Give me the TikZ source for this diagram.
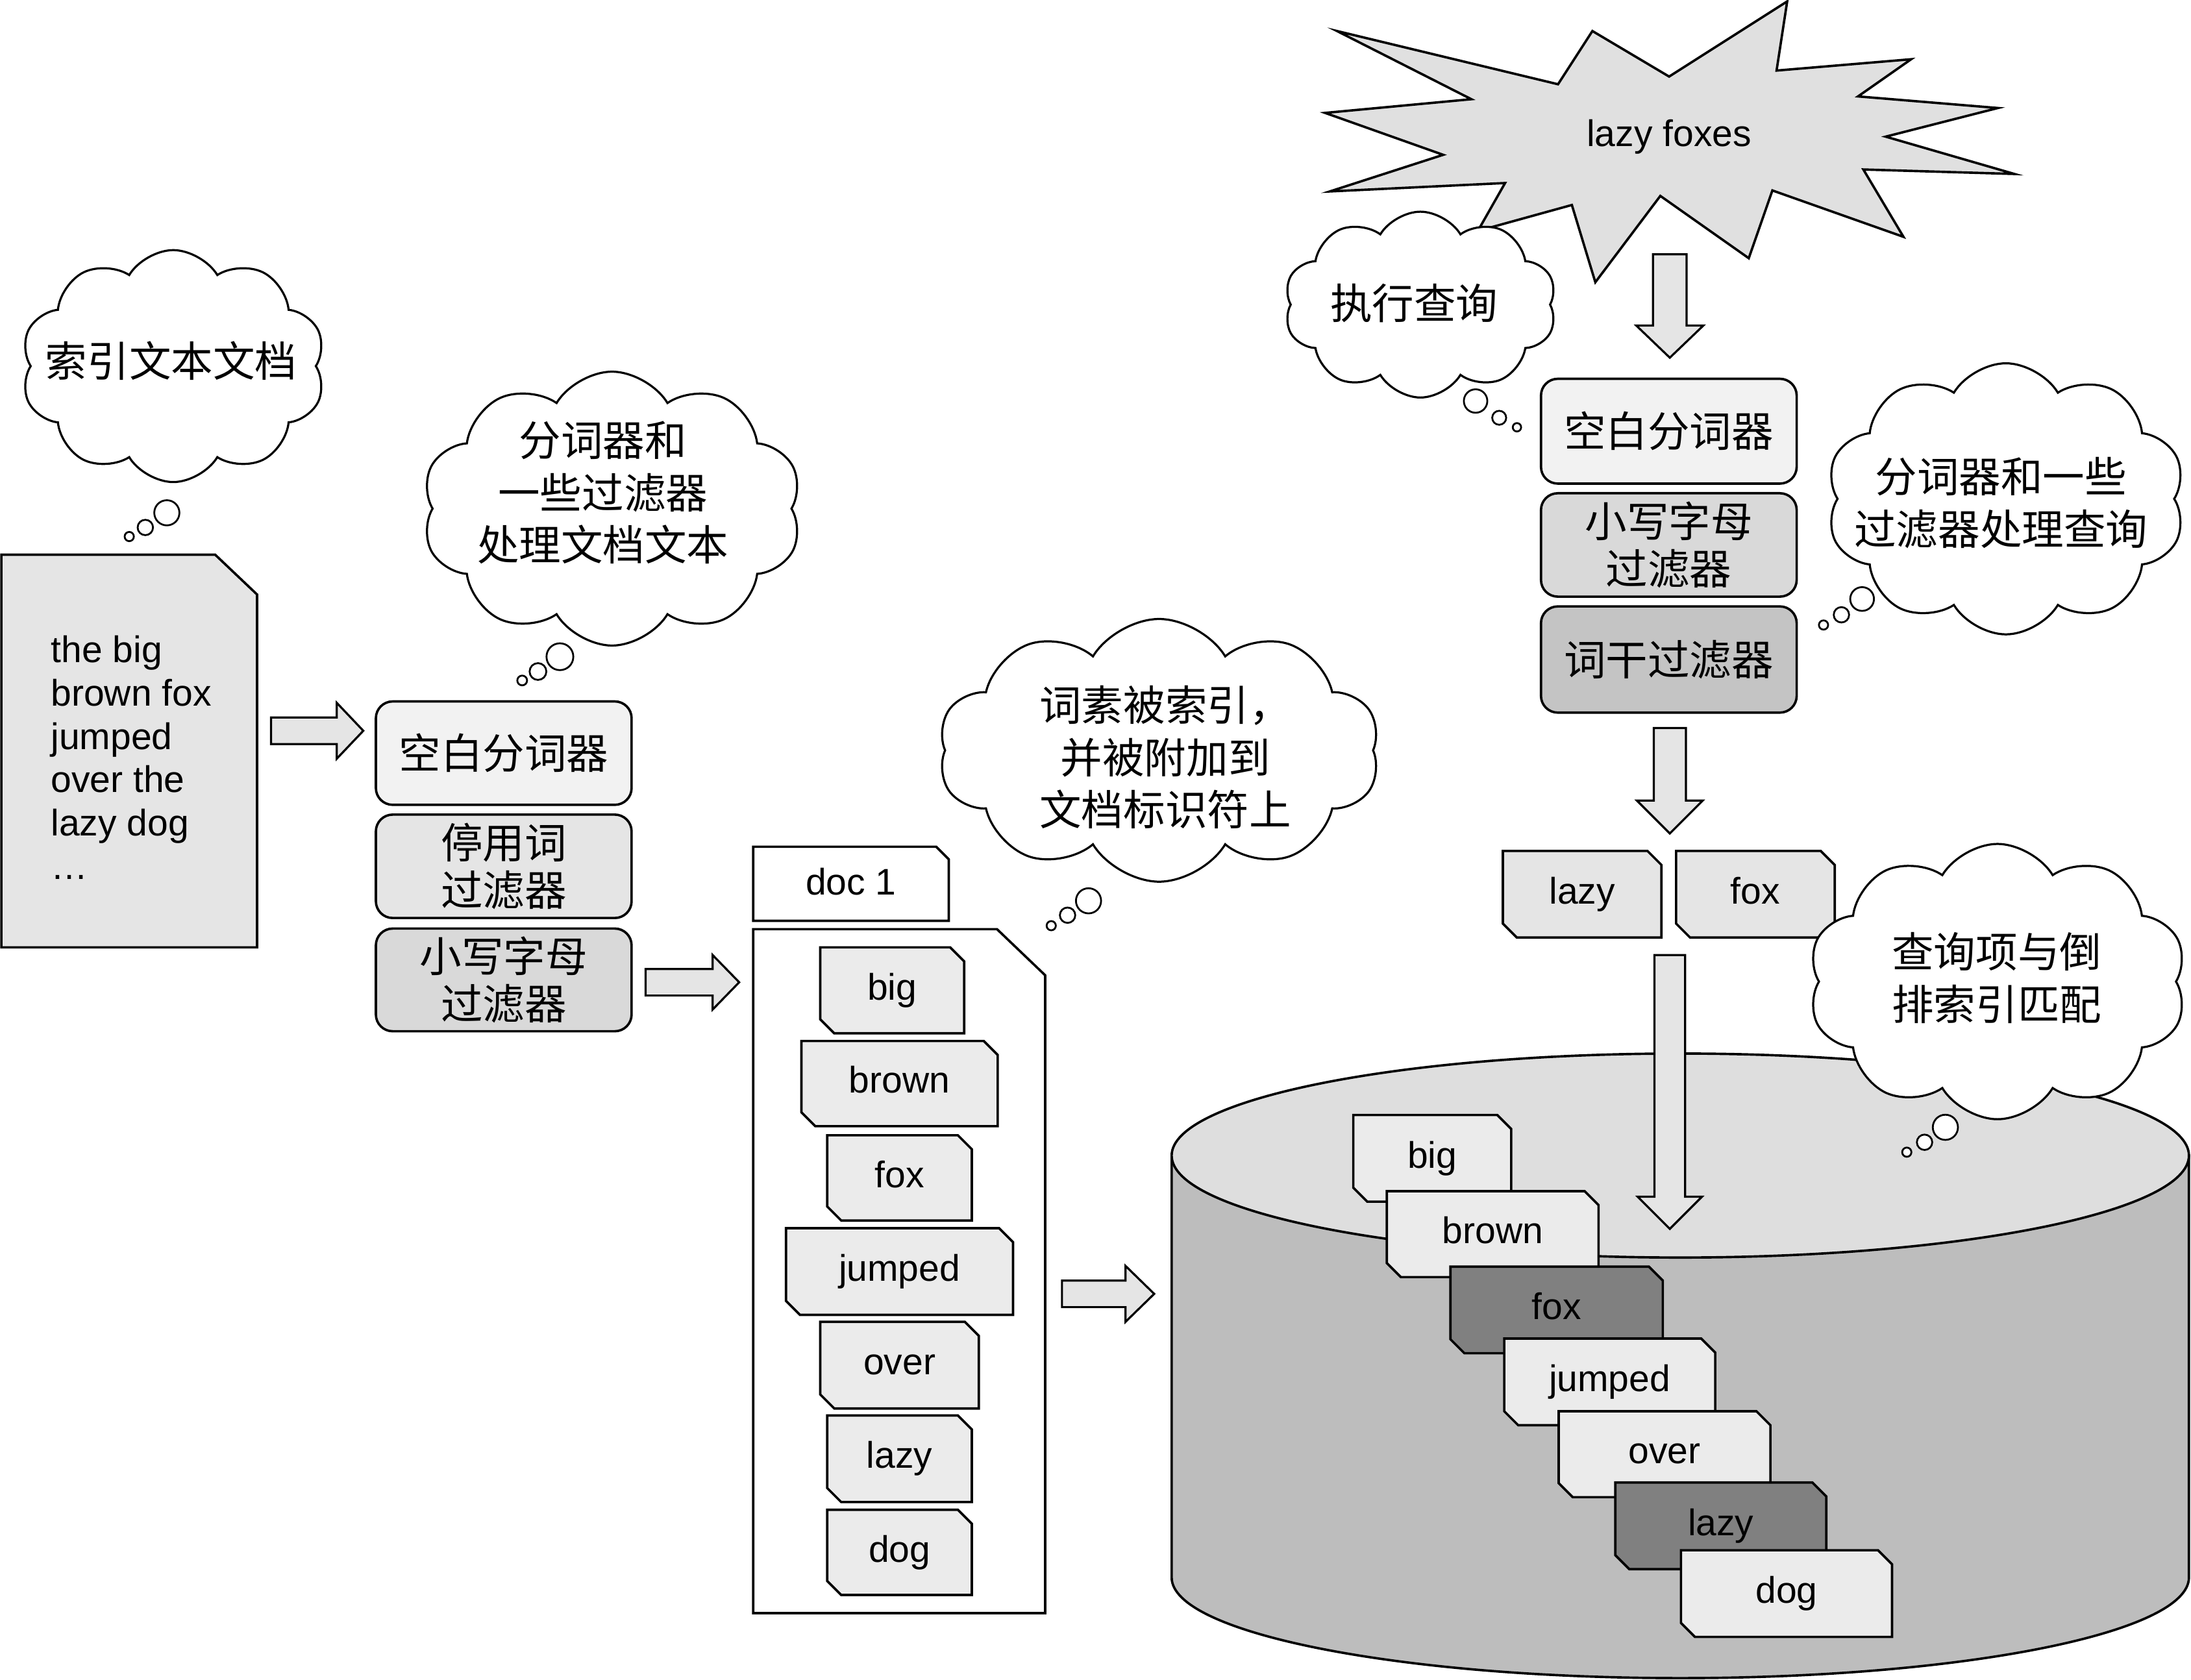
\documentclass[tikz,border=0pt]{standalone}
\usepackage{fontspec}
\setmainfont{Liberation Sans}
\newfontfamily\cjk{Noto Sans CJK SC}
\usetikzlibrary{shapes.symbols}
\definecolor{docgray}{gray}{0.9}
\definecolor{arrgray}{gray}{0.9}
\definecolor{bxa}{gray}{0.95}
\definecolor{bxb}{gray}{0.9}
\definecolor{bxc}{gray}{0.85}
\definecolor{bxd}{gray}{0.77}
\definecolor{tokl}{gray}{0.92}
\definecolor{tokq}{gray}{0.9}
\definecolor{tokd}{gray}{0.5}
\definecolor{cylbody}{gray}{0.74}
\definecolor{cyltop}{gray}{0.87}
\definecolor{burst}{gray}{0.88}
\newcommand\myHArrow[6]{%
\draw[arr] (#1,{#3-#4}) -- ({#2-#6},{#3-#4}) -- ({#2-#6},{#3-#5}) -- (#2,#3) -- ({#2-#6},{#3+#5}) -- ({#2-#6},{#3+#4}) -- (#1,{#3+#4}) -- cycle;}
\newcommand\myVArrow[6]{%
\draw[arr] ({#1-#4},#2) -- ({#1+#4},#2) -- ({#1+#4},{#3-#6}) -- ({#1+#5},{#3-#6}) -- (#1,#3) -- ({#1-#5},{#3-#6}) -- ({#1-#4},{#3-#6}) -- cycle;}
\newcommand\myTok[7]{%
\filldraw[ln,fill=#6] (#2,#3) -- ({#4-10},#3) -- (#4,{#3+10}) -- (#4,#5) -- ({#2+10},#5) -- (#2,{#5-10}) -- cycle;
\node[en] (#1) at ({(#2+#4)/2},{(#3+#5)/2}) {#7};}
\newcommand\myBub[6]{%
\draw[bub] (#1) circle[radius=#2pt];
\draw[bub] (#3) circle[radius=#4pt];
\draw[bub] (#5) circle[radius=#6pt];}
\begin{document}
\begin{tikzpicture}[x=1pt,y=-1pt,
  every node/.style={inner sep=0pt,outer sep=0pt},
  ln/.style={draw=black,line width=1.7pt,line join=miter},
  cl/.style={cloud,cloud puffs=10,cloud puff arc=118,draw=black,line width=1.5pt,fill=white,inner sep=0pt},
  bub/.style={draw=black,line width=1.3pt,fill=white},
  zh/.style={font=\cjk\fontsize{30}{37.5}\selectfont,align=center},
  en/.style={font=\fontsize{26.5}{31}\selectfont,text height=19pt,text depth=5.3pt},
  rbox/.style={ln,rounded corners=12pt,minimum width=183pt,align=center,font=\cjk\fontsize{30}{34}\selectfont},
  arr/.style={ln,fill=arrgray,line width=1.5pt},
]
\useasboundingbox (0,0) rectangle (1568,1202);

% left document
\filldraw[ln,fill=docgray] (1,397) -- (154,397) -- (184,425.5) -- (184,678) -- (1,678) -- cycle;
\node[anchor=north west,align=left,font=\fontsize{26.5}{31}\selectfont] (srctext) at (36.5,455)
  {the big\\brown fox\\jumped\\over the\\lazy dog\\…};

% cloud 1
\node[cl,minimum width=218pt,minimum height=166pt] (c1) at (124,262) {};
\node[zh] (c1t) at (122.5,258) {索引文本文档};
\myBub{92.5,384}{3.3}{104,377.5}{5.5}{119.4,367}{9}

\myHArrow{194}{260}{523}{9.5}{20}{19}

% analysis chain (indexing)
\node[rbox,fill=bxa,minimum height=74pt] (ws1) at (360.5,539) {空白分词器};
\node[rbox,fill=bxb,minimum height=74pt] (stop) at (360.5,620) {停用词\\过滤器};
\node[rbox,fill=bxc,minimum height=73.5pt] (low1) at (360.5,701.3) {小写字母\\过滤器};

% cloud 2
\node[cl,minimum width=272pt,minimum height=196pt] (c2) at (438,364) {};
\node[zh] (c2t) at (431.5,352.6) {分词器和\\一些过滤器\\处理文档文本};
\myBub{373.7,487}{3.5}{385,480.6}{6}{400.7,470}{9.6}

\myHArrow{462}{529}{703}{9.5}{19.5}{19}

% doc 1
\filldraw[ln,fill=white] (539,606) -- (670,606) -- (679,615) -- (679,659) -- (539,659) -- cycle;
\node[en] (doclabel) at (609,633.5) {doc 1};
\filldraw[ln,fill=white] (539,665) -- (713.5,665) -- (748,698) -- (748,1154.5) -- (539,1154.5) -- cycle;
\myTok{d1}{587}{678}{690}{739.5}{tokl}{big}
\myTok{d2}{573.5}{745}{714}{806}{tokl}{brown}
\myTok{d3}{592}{812.5}{695.5}{873.5}{tokl}{fox}
\myTok{d4}{562.5}{879}{725}{941}{tokl}{jumped}
\myTok{d5}{587}{946}{700.5}{1008}{tokl}{over}
\myTok{d6}{592}{1013}{695.5}{1075}{tokl}{lazy}
\myTok{d7}{592}{1080.5}{695.5}{1141.5}{tokl}{dog}

% cloud 3
\node[cl,minimum width=316pt,minimum height=188pt] (c3) at (829.5,537) {};
\node[zh] (c3t) at (834,542) {词素被索引，\\并被附加到\\文档标识符上};
\myBub{752.3,662.5}{3.3}{764,655}{5.5}{779,644.7}{9}

\myHArrow{760}{826}{926}{9.5}{20}{20.5}

% index cylinder
\filldraw[ln,fill=cylbody] (838.5,827) -- (838.5,1129) arc[start angle=180,end angle=360,x radius=364pt,y radius=72pt] -- (1566.5,827) -- cycle;
\filldraw[ln,fill=cyltop] (1202.5,827) ellipse[x radius=364pt,y radius=73pt];
\myTok{i1}{968.5}{798}{1081.5}{860}{tokl}{big}
\myTok{i2}{992.5}{852.5}{1144}{914}{tokl}{brown}
\myTok{i3}{1038}{906.5}{1190}{968.5}{tokd}{fox}
\myTok{i4}{1076.5}{958}{1227.5}{1020}{tokl}{jumped}
\myTok{i5}{1115.5}{1010}{1267}{1071.5}{tokl}{over}
\myTok{i6}{1156}{1061}{1307}{1123}{tokd}{lazy}
\myTok{i7}{1203}{1109.5}{1354}{1171.5}{tokl}{dog}

\myVArrow{1195}{683.5}{879.5}{11}{23}{23}

% query starburst
\filldraw[ln,fill=burst] (1279,1) -- (1271.4,50.5) -- (1367.7,42.4) -- (1329.7,69) -- (1429.8,77.3) -- (1349.5,97.8) -- (1441.6,124.5) -- (1333.5,121.3) -- (1362.2,169.5) -- (1268.4,136.3) -- (1251.5,184.8) -- (1188.2,140.2) -- (1141.7,202) -- (1124.9,146.7) -- (1057.6,165.3) -- (1077.1,131) -- (951.7,137) -- (1032.8,110.8) -- (948.3,80.8) -- (1053,71) -- (956.8,22.2) -- (1115,60.3) -- (1139.6,22.2) -- (1194.5,54.8) -- cycle;
\node[en] (query) at (1194.5,97.8) {lazy foxes};

% cloud 4
\node[cl,minimum width=195pt,minimum height=133pt] (c4) at (1016.5,218) {};
\node[zh] (c4t) at (1012,217) {执行查询};
\myBub{1056,287}{8.4}{1072.9,299}{5}{1085.6,305.8}{3}

\myVArrow{1195}{182}{256}{12}{24}{23}

% analysis chain (query)
\node[rbox,fill=bxa,minimum height=75pt] (ws2) at (1194.3,308.6) {空白分词器};
\node[rbox,fill=bxc,minimum height=74pt] (low2) at (1194.3,390) {小写字母\\过滤器};
\node[rbox,fill=bxd,minimum height=76pt] (stem) at (1194.3,472) {词干过滤器};

% cloud 5
\node[cl,minimum width=257pt,minimum height=194pt] (c5) at (1435.5,357) {};
\node[zh] (c5t) at (1432,360) {分词器和一些\\过滤器处理查询};
\myBub{1305,447.3}{3.3}{1317.8,440}{5.5}{1332.6,428.7}{8.5}

\myVArrow{1195}{521}{596.5}{11.5}{23.5}{23.5}

% query terms
\myTok{q1}{1075.5}{609}{1189}{671}{tokq}{lazy}
\myTok{q2}{1199.5}{609}{1313}{671}{tokq}{fox}

% cloud 6
\node[cl,minimum width=271pt,minimum height=197pt] (c6) at (1429.5,702.5) {};
\node[zh] (c6t) at (1429,700) {查询项与倒\\排索引匹配};
\myBub{1364.6,824.6}{3.3}{1377.3,817.5}{5.5}{1392.2,806.8}{9}
\end{tikzpicture}
\end{document}
